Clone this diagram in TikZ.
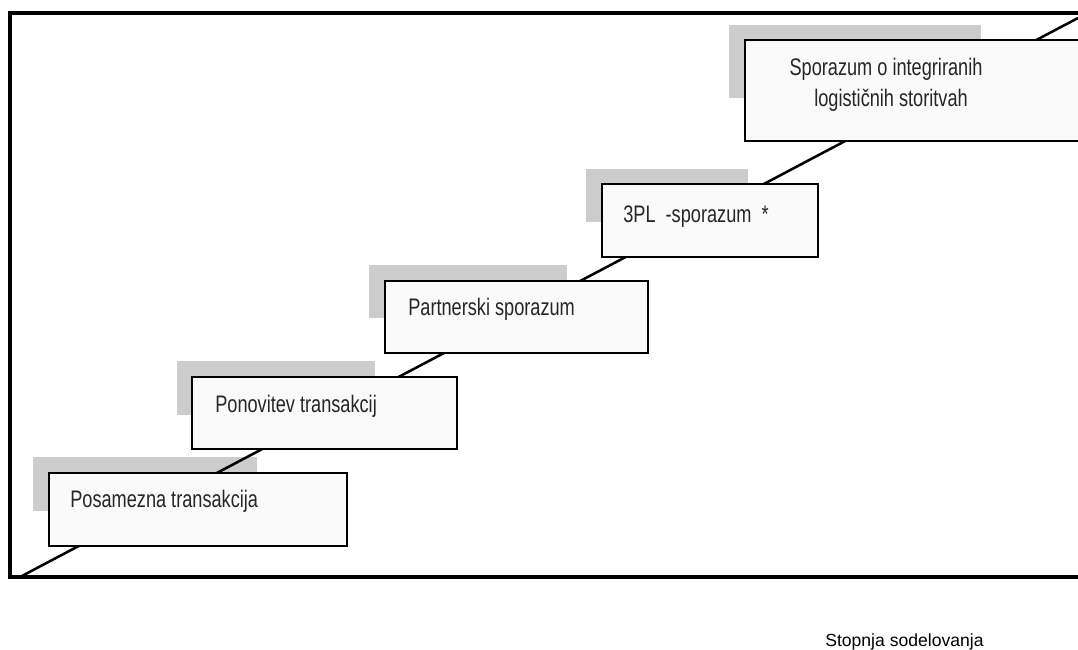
\documentclass[tikz,border=0pt]{standalone}
\usepackage{fontspec}
\setmainfont{Liberation Sans}
\newfontfamily\narrowfont[FakeStretch=0.76]{Liberation Sans}
\usetikzlibrary{fit}

\begin{document}
\begin{tikzpicture}[
    x=0.025cm, y=-0.025cm,
    shade/.style={fill=black!20, draw=none, inner sep=0pt},
    box/.style={draw=black, line width=1.4pt, fill=black!2, inner sep=0pt},
    lbl/.style={font=\fontsize{17}{22.7}\selectfont\narrowfont, text=black!85, inner sep=0pt},
    frm/.style={line width=2.3pt, line cap=rect},
    stair/.style={line width=1.8pt}
  ]
    \useasboundingbox (0,0) rectangle (1078,650);

    %% ── okvir ──
    \coordinate (fTR) at (1078,13);
    \coordinate (fTL) at (10,13);
    \coordinate (fBL) at (10,577);
    \coordinate (fBR) at (1078,577);
    \draw[frm] (fTR) -- (fTL) -- (fBL) -- (fBR);

    %% ── sence ──
    \node[shade, fit={(33,457) (257,511)}]  (s1) {};
    \node[shade, fit={(177,361) (375,415)}] (s2) {};
    \node[shade, fit={(369,265) (567,318)}] (s3) {};
    \node[shade, fit={(586,169) (748,222)}] (s4) {};
    \node[shade, fit={(729,25) (981,98)}]   (s5) {};

    %% ── diagonala ──
    \coordinate (dLo) at (20,577);
    \coordinate (dHi) at (1078,18);
    \draw[stair] (dLo) -- (dHi);

    %% ── stopnice ──
    \node[box, fit={(49,473) (347,546)}]   (b1) {};
    \node[box, fit={(192,377) (457,449)}]  (b2) {};
    \node[box, fit={(385,281) (648,353)}]  (b3) {};
    \node[box, fit={(602,184) (818,257)}]  (b4) {};
    \node[box, fit={(745,40) (1090,141)}]  (b5) {};

    \node[lbl, anchor=base west] (t1) at (70,507)  {Posamezna transakcija};
    \node[lbl, anchor=base west] (t2) at (215,412) {Ponovitev transakcij};
    \node[lbl, anchor=base west] (t3) at (408,315) {Partnerski sporazum};
    \node[lbl, anchor=base west] (t4) at (623,222) {3PL\ \ -sporazum\ \ *};
    \node[lbl, anchor=base, align=center] (t5) at (886,107)
         {Sporazum o integriranih\\ \ \ logističnih storitvah};

    %% ── os ──
    \node[font=\fontsize{12.5}{14}\selectfont, anchor=base west, inner sep=0pt]
         (ax) at (825,646) {Stopnja\ sodelovanja};
  \end{tikzpicture}
\end{document}
